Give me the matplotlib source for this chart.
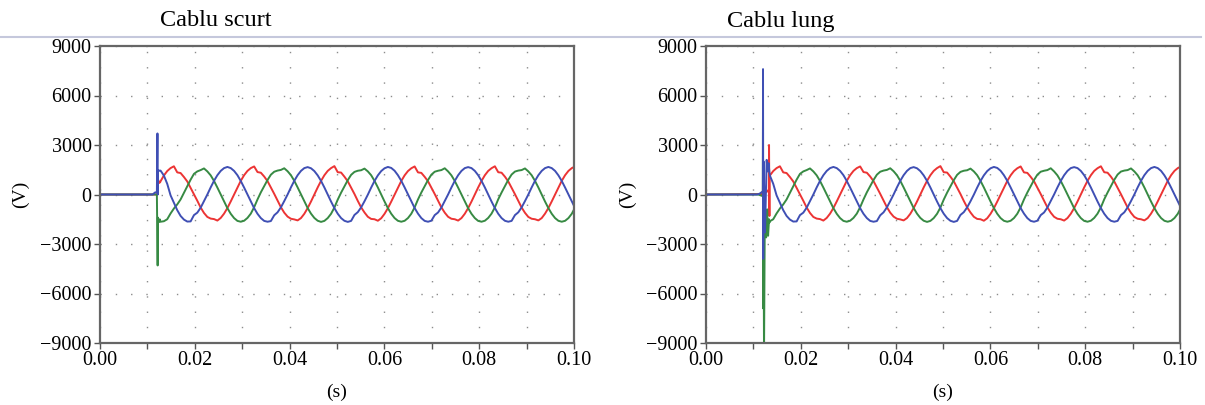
import numpy as np
import matplotlib.pyplot as plt
from matplotlib.lines import Line2D
from matplotlib.ticker import MultipleLocator

plt.rcParams['font.family'] = ['Liberation Serif', 'DejaVu Serif']

# steady state samples, shared by both cases (24 samples per cycle)
T0 = 0.01277
DT = 0.0007054

blue_ss = [1450, 1150, 650, -50, -500, -950, -1300, -1520, -1640, -1630, -1250, -1100, -800, -400, 0, 430, 830, 1170, 1430, 1600,
           1670, 1600, 1430, 1170, 820, 420, 0, -430, -830, -1170, -1430, -1600, -1650, -1610, -1260, -1080, -780, -400, 0, 430, 830, 1170, 1430, 1600,
           1660, 1590, 1420, 1160, 825, 427, 0, -427, -825, -1167, -1429, -1594, -1660, -1600, -1240, -1070, -780, -410, -10, 420, 820, 1160, 1420, 1590,
           1670, 1610, 1440, 1170, 830, 430, 10, -420, -820, -1160, -1430, -1600, -1650, -1590, -1250, -1090, -790, -400, 0, 427, 825, 1167, 1430, 1600,
           1660, 1600, 1430, 1170, 825, 427, 0, -427, -825, -1167, -1429, -1594, -1650, -1600, -1250, -1080, -780, -400, 0, 430, 830, 1170, 1430, 1600,
           1670, 1600, 1430, 1160, 820, 420, 0, -430, -830]

red_ss = [800, 1150, 1420, 1600,
          1710, 1340, 1300, 1060, 790, 400, 20, -380, -790, -1120, -1360, -1460, -1490, -1580, -1420, -1160, -820, -420, 0, 430, 830, 1170, 1430, 1600,
          1700, 1360, 1320, 1090, 810, 430, 40, -370, -770, -1100, -1340, -1470, -1510, -1570, -1430, -1170, -825, -427, 0, 427, 825, 1167, 1430, 1600,
          1720, 1350, 1330, 1080, 800, 410, 30, -390, -780, -1090, -1350, -1480, -1500, -1590, -1440, -1170, -830, -430, -10, 420, 820, 1160, 1420, 1590,
          1700, 1340, 1310, 1070, 800, 420, 30, -380, -780, -1100, -1350, -1470, -1500, -1580, -1430, -1167, -825, -427, 0, 427, 825, 1167, 1429, 1594,
          1710, 1350, 1320, 1080, 790, 410, 20, -390, -790, -1110, -1360, -1470, -1500, -1570, -1430, -1160, -820, -420, 0, 430, 830, 1170, 1430, 1600,
          1700]

green_ss = [-1650, -1620, -1500, -1150, -850, -600, -300, 100, 500, 900, 1250, 1400,
            1480, 1580, 1400, 1160, 820, 420, 0, -430, -830, -1170, -1430, -1600, -1650, -1590, -1420, -1160, -770, -300, 130, 500, 880, 1200, 1380, 1450,
            1490, 1590, 1410, 1170, 830, 430, 10, -420, -820, -1160, -1420, -1590, -1660, -1600, -1430, -1170, -790, -310, 110, 490, 870, 1190, 1370, 1440,
            1470, 1570, 1400, 1167, 825, 427, 0, -427, -825, -1167, -1429, -1594, -1650, -1594, -1429, -1167, -780, -300, 120, 500, 880, 1200, 1380, 1440,
            1480, 1590, 1400, 1160, 820, 420, 0, -430, -830, -1170, -1430, -1600, -1650, -1590, -1420, -1160, -780, -290, 120, 510, 890, 1210, 1390, 1450,
            1480, 1580, 1400, 1167, 825, 427, 0, -427, -825, -1167, -1429, -1594, -1650, -1594, -1429, -1167, -780]

# fault transient, short cable
short_blue_t = [0.0, 0.0111, 0.0116, 0.0120, 0.01212, 0.01218, 0.01224, 0.0125, 0.0127]
short_blue_v = [0, 0, 120, 150, 3700, 0, 1450, 1450, 1430]
short_green_t = [0.0, 0.0120, 0.01216, 0.01222, 0.0123, 0.0125, 0.0126, 0.0127]
short_green_v = [0, 0, -4300, -1400, -1650, -1650, -1500, -1650]
short_red_t = [0.0, 0.0121, 0.01225, 0.0125, 0.0127]
short_red_v = [0, 0, 900, 700, 750]

# fault transient, long cable
long_blue_t = [0.0, 0.0108, 0.0113, 0.0118, 0.0120, 0.01203, 0.01207, 0.01215, 0.01245, 0.0128, 0.0130, 0.0132, 0.0134]
long_blue_v = [0, 0, 50, 150, 200, 7600, -3900, 2000, -2300, 2100, 1400, 1900, 1300]
long_green_t = [0.0, 0.0110, 0.0118, 0.01198, 0.01203, 0.01206, 0.01212, 0.01224, 0.0124, 0.0127, 0.0129, 0.0131, 0.0133, 0.0134]
long_green_v = [0, 0, -80, -100, 5800, -6900, 500, -9800, -1500, -2600, -900, -2500, -1500, -1700]
long_red_t = [0.0, 0.0121, 0.0124, 0.0128, 0.01325, 0.0133, 0.01338, 0.0134]
long_red_v = [0, 30, 250, 150, 300, 3000, -1300, 900]

titles = ["Cablu scurt", "Cablu lung"]
colors = {"red": "#ec3434", "green": "#378a43", "blue": "#3f4fb4"}

t_ss = T0 + DT * np.arange(len(blue_ss))


def join(tt, vv, ss):
    tt = np.array(tt)
    keep = t_ss > tt[-1]
    return np.concatenate([tt, t_ss[keep]]), np.concatenate([np.array(vv, float), np.array(ss, float)[keep]])


fig = plt.figure(figsize=(12.05, 4.05), dpi=100)
axes = [fig.add_axes([100/1205, 62/405, 474/1205, 297/405]),
        fig.add_axes([706/1205, 62/405, 474/1205, 297/405])]

cases = [
    [(short_red_t, short_red_v, red_ss, "red"), (short_green_t, short_green_v, green_ss, "green"), (short_blue_t, short_blue_v, blue_ss, "blue")],
    [(long_red_t, long_red_v, red_ss, "red"), (long_green_t, long_green_v, green_ss, "green"), (long_blue_t, long_blue_v, blue_ss, "blue")],
]

for ax, case in zip(axes, cases):
    for tt, vv, ss, c in case:
        x, y = join(tt, vv, ss)
        ax.plot(x, y, color=colors[c], lw=1.4)
    ax.set_xlim(0, 0.10)
    ax.set_ylim(-9000, 9000)
    ax.xaxis.set_major_locator(MultipleLocator(0.02))
    ax.xaxis.set_minor_locator(MultipleLocator(0.01))
    ax.yaxis.set_major_locator(MultipleLocator(3000))
    ax.set_xticklabels([f"{v:.2f}" for v in ax.get_xticks()])
    ax.set_yticklabels([f"{int(v)}".replace("-", "\u2212") for v in ax.get_yticks()])
    ax.grid(which="both", axis="x", color="#8c8c8c", lw=1, linestyle=(0, (1, 10)))
    ax.grid(which="major", axis="y", color="#8c8c8c", lw=1, linestyle=(0, (1, 10)))
    ax.tick_params(which="both", direction="out", length=4, width=1, color="#555555", labelsize=14.5, pad=2)
    for sp in ax.spines.values():
        sp.set_color("#666666")
        sp.set_linewidth(1.6)

# labels placed like the source figure
fig.text(160/1205, 1 - 21/405, titles[0], fontsize=17.5, ha="left", va="center")
fig.text(727/1205, 1 - 21/405, titles[1], fontsize=17.5, ha="left", va="center")
for xl in [20, 627]:
    fig.text(xl/1205, 1 - 194/405, "(V)", fontsize=14, rotation=90, ha="center", va="center")
for xs in [337, 943]:
    fig.text(xs/1205, 1 - 392/405, "(s)", fontsize=14, ha="center", va="center")

fig.add_artist(Line2D([0, 0.997], [1 - 37/405, 1 - 37/405], color="#c5c8dc", lw=1.5))

fig.savefig("out.png", dpi=100)
